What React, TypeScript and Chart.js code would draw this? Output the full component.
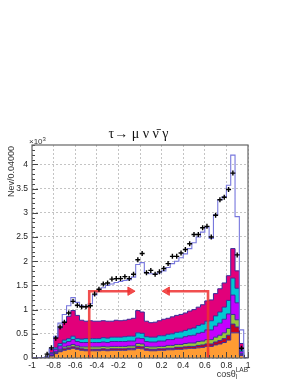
import React, { useEffect, useRef } from "react";
import { Chart, registerables } from "chart.js";

Chart.register(...registerables);

// ---- histogram binning (cos theta, 50 bins of 0.04) ----
const X_MIN = -1;
const X_MAX = 1;
const BIN_W = 0.04;

// ---- stacked MC components (units of 10^3 events per bin), bins 0..49 ----
const orange = [
  0, 0, 0, 0.01, 0.04, 0.09, 0.13, 0.16, 0.18, 0.2,
  0.18, 0.16, 0.15, 0.15, 0.15, 0.15, 0.16, 0.15, 0.16, 0.16,
  0.16, 0.16, 0.17, 0.17, 0.2, 0.19, 0.16, 0.15, 0.15, 0.16,
  0.16, 0.17, 0.17, 0.18, 0.18, 0.19, 0.2, 0.2, 0.21, 0.22,
  0.24, 0.24, 0.27, 0.29, 0.32, 0.37, 0.52, 0.52, 0.05, 0,
];
const darkRed = [
  0, 0, 0, 0, 0.01, 0.02, 0.02, 0.03, 0.03, 0.03,
  0.03, 0.03, 0.03, 0.03, 0.03, 0.03, 0.03, 0.03, 0.03, 0.03,
  0.03, 0.03, 0.03, 0.03, 0.04, 0.04, 0.03, 0.03, 0.03, 0.03,
  0.03, 0.03, 0.03, 0.04, 0.04, 0.04, 0.04, 0.04, 0.05, 0.05,
  0.05, 0.05, 0.06, 0.07, 0.08, 0.1, 0.18, 0.12, 0.02, 0,
];
const green = [
  0, 0, 0, 0, 0.01, 0.02, 0.03, 0.04, 0.04, 0.05,
  0.04, 0.04, 0.05, 0.05, 0.05, 0.05, 0.05, 0.05, 0.05, 0.05,
  0.05, 0.05, 0.05, 0.05, 0.06, 0.06, 0.05, 0.05, 0.05, 0.05,
  0.05, 0.06, 0.06, 0.06, 0.06, 0.07, 0.07, 0.07, 0.08, 0.08,
  0.09, 0.09, 0.1, 0.11, 0.12, 0.14, 0.2, 0.15, 0.02, 0,
];
const violet = [
  0, 0, 0, 0.01, 0.03, 0.05, 0.07, 0.08, 0.09, 0.1,
  0.09, 0.09, 0.09, 0.09, 0.09, 0.09, 0.09, 0.09, 0.1, 0.1,
  0.1, 0.1, 0.1, 0.1, 0.11, 0.11, 0.1, 0.1, 0.1, 0.11,
  0.11, 0.12, 0.12, 0.13, 0.13, 0.14, 0.15, 0.16, 0.17, 0.18,
  0.2, 0.2, 0.23, 0.25, 0.28, 0.3, 0.4, 0.35, 0.04, 0,
];
const cyan = [
  0, 0, 0, 0, 0.02, 0.03, 0.05, 0.06, 0.06, 0.07,
  0.06, 0.07, 0.08, 0.08, 0.08, 0.08, 0.09, 0.09, 0.09, 0.09,
  0.09, 0.1, 0.1, 0.1, 0.11, 0.11, 0.1, 0.1, 0.1, 0.11,
  0.11, 0.11, 0.12, 0.12, 0.13, 0.13, 0.14, 0.15, 0.16, 0.17,
  0.18, 0.19, 0.21, 0.23, 0.25, 0.28, 0.35, 0.3, 0.04, 0,
];
const magenta = [
  0, 0, 0, 0.01, 0.07, 0.21, 0.32, 0.37, 0.46, 0.53,
  0.48, 0.39, 0.36, 0.37, 0.36, 0.36, 0.35, 0.35, 0.33, 0.35,
  0.34, 0.34, 0.35, 0.37, 0.46, 0.44, 0.32, 0.3, 0.31, 0.31,
  0.34, 0.33, 0.35, 0.35, 0.36, 0.36, 0.37, 0.38, 0.38, 0.4,
  0.42, 0.43, 0.46, 0.48, 0.5, 0.51, 0.61, 0.36, 0.13, 0,
];

// ---- total MC outline ----
const totalMC = [
  0, 0, 0, 0.03, 0.2, 0.45, 0.72, 0.9, 1.08, 1.25,
  1.15, 1.08, 1.06, 1.12, 1.3, 1.38, 1.45, 1.5, 1.53, 1.56,
  1.58, 1.6, 1.62, 1.67, 1.93, 1.97, 1.76, 1.74, 1.73, 1.76,
  1.8, 1.87, 1.95, 2.0, 2.07, 2.15, 2.26, 2.38, 2.5, 2.6,
  2.7, 2.47, 2.96, 3.27, 3.33, 3.57, 4.19, 2.92, 0.58, 0,
];

// ---- data points ----
const dataVals: (number | null)[] = [
  null, null, null, 0.08, 0.21, 0.41, 0.64, 0.74, 0.93, 1.17,
  1.09, 1.06, 1.06, 1.08, 1.32, 1.42, 1.53, 1.55, 1.63, 1.64,
  1.64, 1.68, 1.64, 1.73, 2.03, 2.16, 1.76, 1.81, 1.73, 1.78,
  1.85, 1.95, 2.1, 2.1, 2.17, 2.24, 2.36, 2.55, 2.55, 2.69,
  2.72, 2.5, 2.95, 3.27, 3.32, 3.48, 3.82, 2.13, 0.2, null,
];

// ---- selection arrows ----
const arrowLeft = [
  { x: -0.47, y: 0 },
  { x: -0.47, y: 1.38 },
  { x: -0.09, y: 1.38 },
];
const arrowRight = [
  { x: 0.63, y: 0 },
  { x: 0.63, y: 1.38 },
  { x: 0.25, y: 1.38 },
];

const yTickLabels = ["0", "0.5", "1", "1.5", "2", "2.5", "3", "3.5", "4"];
const xTickLabels = ["-1", "-0.8", "-0.6", "-0.4", "-0.2", "0", "0.2", "0.4", "0.6", "0.8", "1"];

const LAYER_COLORS = ["#ff9c33", "#c8001e", "#96c83c", "#c400ff", "#00c8d2", "#e2007a"];
const LAYER_LINE = "#3a2a9a";
const TOTAL_LINE = "#7777dd";
const RED = "rgba(238,48,48,0.85)";
const SANS = '"Liberation Sans", Arial, sans-serif';
const SERIF = '"Liberation Serif", "DejaVu Serif", serif';

function stepPoints(vals: number[]) {
  const pts = vals.map((v, i) => ({ x: X_MIN + BIN_W * i, y: v }));
  pts.push({ x: X_MAX, y: vals[vals.length - 1] });
  return pts;
}

const rootStyle = {
  id: "rootStyle",
  afterDatasetsDraw(chart: any) {
    const { ctx, chartArea: a, scales } = chart;
    const xs = scales.x;
    const ys = scales.y;
    ctx.save();
    ctx.strokeStyle = "#444";
    ctx.lineWidth = 1;
    // y ticks (inside)
    for (let k = 0; k <= 44; k++) {
      const v = k / 10;
      const py = Math.round(ys.getPixelForValue(v)) + 0.5;
      const len = k % 5 === 0 ? 6 : 3;
      ctx.beginPath();
      ctx.moveTo(a.left, py);
      ctx.lineTo(a.left + len, py);
      ctx.stroke();
    }
    // x ticks (inside)
    for (let k = 0; k <= 50; k++) {
      const v = X_MIN + k * BIN_W;
      const px = Math.round(xs.getPixelForValue(v)) + 0.5;
      const len = k % 5 === 0 ? 6 : 3;
      ctx.beginPath();
      ctx.moveTo(px, a.bottom);
      ctx.lineTo(px, a.bottom - len);
      ctx.stroke();
    }
    // frame
    ctx.strokeStyle = "#666";
    ctx.lineWidth = 1.2;
    ctx.strokeRect(a.left, a.top, a.right - a.left, a.bottom - a.top);
    ctx.restore();
  },
  afterDraw(chart: any) {
    const { ctx, chartArea: a } = chart;
    ctx.save();
    ctx.fillStyle = "#111";
    // title
    ctx.font = `14px ${SERIF}`;
    ctx.textAlign = "center";
    ctx.textBaseline = "alphabetic";
    ctx.fillText("τ→ μ ν ν̄ γ", 138.5, 138);
    // x10^3
    ctx.fillStyle = "#333";
    ctx.textAlign = "left";
    ctx.font = `8px ${SANS}`;
    ctx.fillText("×10", a.left - 3, a.top - 1);
    const w10 = ctx.measureText("×10").width;
    ctx.font = `6px ${SANS}`;
    ctx.fillText("3", a.left - 3 + w10, a.top - 4);
    // y title
    ctx.save();
    ctx.translate(13.5, a.top + 1);
    ctx.rotate(-Math.PI / 2);
    ctx.font = `9px ${SANS}`;
    ctx.textAlign = "right";
    ctx.fillText("Nev/0.04000", 0, 0);
    ctx.restore();
    // x title: cos theta_l ^LAB
    ctx.font = `6.5px ${SANS}`;
    const wLab = ctx.measureText("LAB").width;
    ctx.textAlign = "left";
    const labX = a.right - wLab;
    ctx.fillText("LAB", labX, 372);
    ctx.fillText("l", labX, 379);
    ctx.font = `9px ${SANS}`;
    ctx.textAlign = "right";
    ctx.fillText("cosθ", labX, 377);
    ctx.restore();
  },
};

export default function App() {
  const ref = useRef<HTMLCanvasElement | null>(null);

  useEffect(() => {
    if (!ref.current) return;
    const layers = [orange, darkRed, green, violet, cyan, magenta];
    let acc = new Array(orange.length).fill(0);
    const cumulative = layers.map((l) => {
      acc = acc.map((s: number, i: number) => s + l[i]);
      return acc;
    });

    const layerSets = cumulative.map((c, k) => ({
      type: "line",
      data: stepPoints(c),
      stepped: "before",
      borderColor: LAYER_LINE,
      borderWidth: 1,
      backgroundColor: LAYER_COLORS[k],
      fill: k === 0 ? "origin" : "-1",
      pointRadius: 0,
    }));

    const points = dataVals
      .map((v, i) => (v === null ? null : { x: X_MIN + BIN_W * (i + 0.5), y: v }))
      .filter((p) => p !== null);

    const arrowSet = (pts: any[], rot: number) => ({
      type: "line",
      data: pts,
      borderColor: RED,
      borderWidth: 2.6,
      fill: false,
      pointStyle: "triangle",
      pointRadius: [0, 0, 4.8],
      pointRotation: [0, 0, rot],
      pointBackgroundColor: RED,
      pointBorderColor: RED,
      pointBorderWidth: 1,
    });

    const chart = new Chart(ref.current, {
      type: "line",
      data: {
        datasets: [
          {
            type: "line",
            data: points,
            showLine: false,
            pointStyle: "cross",
            pointRadius: 2.5,
            pointBorderColor: "#000",
            pointBorderWidth: 1.4,
            borderColor: "#000",
          },
          arrowSet(arrowLeft, 90),
          arrowSet(arrowRight, -90),
          {
            type: "line",
            data: stepPoints(totalMC),
            stepped: "before",
            borderColor: TOTAL_LINE,
            borderWidth: 1.1,
            fill: false,
            pointRadius: 0,
          },
          ...layerSets,
        ] as any,
      },
      options: {
        animation: false,
        responsive: false,
        devicePixelRatio: 1,
        layout: { padding: { top: 145, right: 52, left: 0, bottom: 0 } },
        plugins: {
          legend: { display: false },
          tooltip: { enabled: false },
          title: { display: false },
        },
        scales: {
          x: {
            type: "linear",
            min: X_MIN,
            max: X_MAX,
            afterFit: (s: any) => {
              s.height = 30;
            },
            grid: { color: "#c4c4c4", lineWidth: 1, drawTicks: false },
            border: { display: false, dash: [2, 2] },
            ticks: {
              stepSize: 0.2,
              padding: 3,
              autoSkip: false,
              maxRotation: 0,
              color: "#222",
              font: { family: SANS, size: 8.5 },
              callback: (_v: any, i: number) => xTickLabels[i] ?? "",
            },
          },
          y: {
            type: "linear",
            min: 0,
            max: 4.4,
            afterFit: (s: any) => {
              s.width = 32;
            },
            grid: { color: "#c4c4c4", lineWidth: 1, drawTicks: false },
            border: { display: false, dash: [2, 2] },
            ticks: {
              stepSize: 0.5,
              includeBounds: false,
              padding: 4,
              color: "#222",
              font: { family: SANS, size: 8.5 },
              callback: (_v: any, i: number) => yTickLabels[i] ?? "",
            },
          },
        },
      } as any,
      plugins: [rootStyle],
    });
    return () => chart.destroy();
  }, []);

  return (
    <div style={{ position: "absolute", left: 0, top: 0, width: 300, height: 388, background: "#fff" }}>
      <canvas ref={ref} width={300} height={388} style={{ display: "block", width: 300, height: 388 }} />
    </div>
  );
}
